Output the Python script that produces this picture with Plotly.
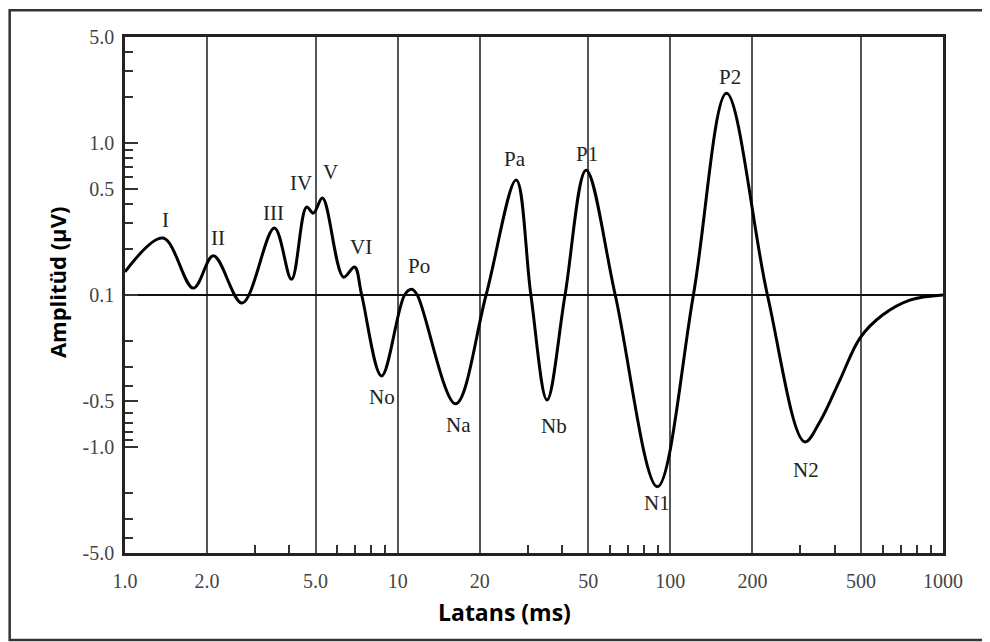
import numpy as np
import plotly.graph_objects as go

# ---- data ----
latency_ms = [1.0, 1.38, 1.78, 2.11, 2.69, 3.53, 4.08, 4.63, 4.91, 5.30, 6.33, 6.95,
              7.38, 8.73, 10.6, 11.26, 11.8, 16.3, 21.1, 27.2, 30.8, 35.3, 41.1, 49.1,
              62.8, 89.6, 121.5, 160.7, 227.0, 311.0, 354.0, 419.0, 496.0, 602.0, 756.0, 1000.0]
amplitude_uv = [0.142, 0.237, 0.111, 0.181, -0.113, 0.276, 0.127, 0.379, 0.346, 0.435, 0.131, 0.153,
                0.1, -0.341, 0.1, 0.109, 0.1, -0.521, 0.1, 0.571, 0.1, -0.491, 0.1, 0.664,
                0.1, -1.83, 0.1, 2.13, 0.1, -0.927, -0.68, -0.362, -0.192, -0.135, -0.108, -0.1]

peak_names = ["I", "II", "III", "IV", "V", "VI", "No", "Po", "Na", "Pa", "Nb", "P1", "N1", "P2", "N2"]
peak_index = [1, 3, 5, 7, 9, 11, 13, 15, 17, 19, 21, 23, 25, 27, 29]

x_tick_vals = [1, 2, 5, 10, 20, 50, 100, 200, 500, 1000]
x_tick_text = ["1.0", "2.0", "5.0", "10", "20", "50", "100", "200", "500", "1000"]
x_minor_vals = [3, 4, 6, 7, 8, 9, 30, 40, 60, 70, 80, 90, 300, 400, 600, 700, 800, 900]

y_tick_vals = [5.0, 1.0, 0.5, 0.1, -0.5, -1.0, -5.0]
y_tick_text = ["5.0", "1.0", "0.5", "0.1", "-0.5", "-1.0", "-5.0"]
y_minor_vals = [4, 3, 2, 0.9, 0.8, 0.7, 0.6, 0.4, 0.3, 0.2,
                -0.2, -0.3, -0.4, -0.6, -0.7, -0.8, -0.9, -2, -3, -4]
y_limit = 5.0


# amplitude axis: signed logarithmic scale folded at +/-0.1 uV
def amp_axis(a):
    a = np.asarray(a, dtype=float)
    return np.sign(a) * np.log10(np.maximum(np.abs(a), 0.1) / 0.1)


# label offsets (pixels) relative to their peak
label_offsets = {
    "I": (2, 18), "II": (5, 18), "III": (-1, 15), "IV": (-5, 24), "V": (8, 26),
    "VI": (6, 20), "Po": (7, 23), "No": (0, -21), "Na": (3, -21), "Pa": (-1, 21),
    "Nb": (7, -26), "P1": (1, 16), "N1": (0, -16), "P2": (3, 16), "N2": (1, -28),
}

serif = "Liberation Serif, Times New Roman, serif"

fig = go.Figure()
fig.add_trace(go.Scatter(
    x=latency_ms, y=amp_axis(amplitude_uv), mode="lines",
    line=dict(color="black", width=3, shape="spline", smoothing=1.0),
    hoverinfo="skip", showlegend=False,
))

ya = amp_axis(amplitude_uv)
for name, idx in zip(peak_names, peak_index):
    dx, dy = label_offsets[name]
    fig.add_annotation(x=np.log10(latency_ms[idx]), y=float(ya[idx]), text=name,
                       showarrow=False, xanchor="center", yanchor="middle",
                       xshift=dx, yshift=dy,
                       font=dict(family=serif, size=21, color="#222"))

# axis titles
fig.add_annotation(xref="paper", yref="paper", x=0.4645, y=-0.1143, text="<b>Latans (ms)</b>",
                   showarrow=False, xanchor="center", yanchor="middle",
                   font=dict(family="Open Sans", size=23, color="black"))
fig.add_annotation(xref="paper", yref="paper", x=-0.0831, y=0.525, text="<b>Amplitüd (μV)</b>",
                   showarrow=False, xanchor="center", yanchor="middle", textangle=-90,
                   font=dict(family="Open Sans", size=22, color="black"))

# outer frame
fig.add_shape(type="rect", xref="paper", yref="paper", x0=-0.141, x1=1.2, y0=-0.1686, y1=1.052,
              line=dict(color="#333", width=2.5), layer="below")

ylim = float(amp_axis(y_limit))
fig.update_layout(
    width=982, height=634,
    margin=dict(l=117, r=47, t=29, b=89),
    paper_bgcolor="white", plot_bgcolor="white",
    xaxis=dict(
        type="log", range=[0, 3],
        tickmode="array", tickvals=x_tick_vals, ticktext=x_tick_text,
        ticks="", showgrid=True, gridcolor="#555", gridwidth=1.6,
        showline=True, linecolor="#222", linewidth=2.5, mirror=True,
        zeroline=False, ticklabelstandoff=8,
        tickfont=dict(family=serif, size=20, color="#444"),
        minor=dict(tickmode="array", tickvals=x_minor_vals, ticks="inside",
                   ticklen=8, tickwidth=1.5, tickcolor="#333", showgrid=False),
    ),
    yaxis=dict(
        range=[-ylim, ylim],
        tickmode="array", tickvals=list(amp_axis(y_tick_vals)), ticktext=y_tick_text,
        ticks="inside", ticklen=13, tickwidth=1.5, tickcolor="#333",
        showgrid=False, zeroline=True, zerolinecolor="#111", zerolinewidth=2,
        showline=True, linecolor="#222", linewidth=2.5, mirror=True,
        ticklabelstandoff=4,
        tickfont=dict(family=serif, size=20, color="#444"),
        minor=dict(tickmode="array", tickvals=list(amp_axis(y_minor_vals)), ticks="inside",
                   ticklen=8, tickwidth=1.5, tickcolor="#333", showgrid=False),
    ),
)

fig.write_html("out.html")
